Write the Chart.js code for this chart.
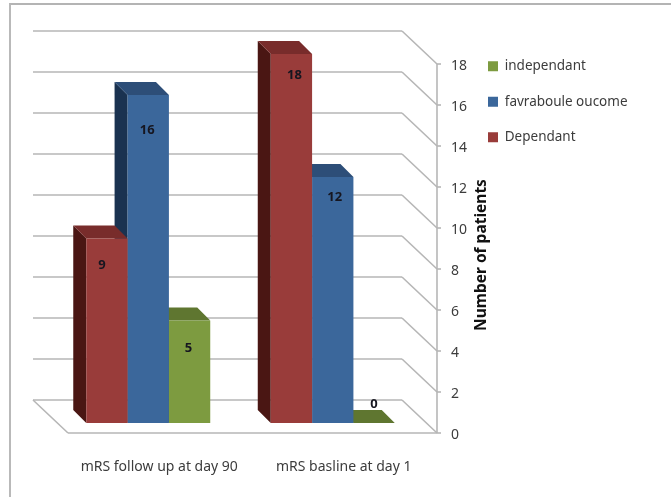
<!DOCTYPE html>
<html lang="en">
<head>
    <meta charset="UTF-8">
    <title>mRS outcome</title>
    <script src="https://cdn.jsdelivr.net/npm/chart.js"></script>
    <style>
        body { margin: 0; background: #fff; }
        #frame {
            position: absolute;
            left: 9px;
            top: 3px;
            width: 662px;
            height: 494px;
            border-top: 2px solid #b4b4b4;
            border-left: 2px solid #b9b9b9;
            box-sizing: border-box;
        }
        canvas { position: absolute; left: 0; top: 0; }
    </style>
</head>
<body>
    <div id="frame"></div>
    <canvas id="chart" width="671" height="497"></canvas>
    <script>
        const categories = ['mRS follow up at day 90', 'mRS basline at day 1'];
        const dependant = [9, 18];
        const favourable = [16, 12];
        const independant = [5, 0];
        const seriesNames = ['Dependant', 'favraboule oucome', 'independant'];
        const yTicks = [0, 2, 4, 6, 8, 10, 12, 14, 16, 18];
        const axisTitle = 'Number of patients';

        const FONT = '"Noto Sans", sans-serif';
        const TEXT = '#3c3c3c';
        const GRID = '#b6b6b6';
        // the floor sits behind the axis plane, this is the fake perspective
        const WALL_DX = 35, WALL_DY = 33;
        const BAR_DEPTH = 13;
        const BAR_LIFT = 0.488; // bars stand on the floor, 10px above the axis zero

        const colors = [
            { front: '#993c3a', top: '#782c2b', side: '#4a1613' },
            { front: '#3b679b', top: '#2d4e78', side: '#1a3250' },
            { front: '#7d9b40', top: '#5f7630', side: '#4a5c24' }
        ];
        // where Excel left the value labels, relative to each bar top
        const labelShift = [
            [[-5, 27], [3, 21]],
            [[-1, 35], [2, 20]],
            [[-1, 28], [0, -19]]
        ];

        function line(ctx, x1, y1, x2, y2) {
            ctx.beginPath();
            ctx.moveTo(x1, y1);
            ctx.lineTo(x2, y2);
            ctx.stroke();
        }

        function poly(ctx, pts, fill) {
            ctx.fillStyle = fill;
            ctx.beginPath();
            pts.forEach((p, i) => i ? ctx.lineTo(p[0], p[1]) : ctx.moveTo(p[0], p[1]));
            ctx.closePath();
            ctx.fill();
        }

        const threeD = {
            id: 'threeD',
            afterLayout(chart) {
                // legend goes beside the top of the axis, not in the middle of its own box
                chart.legend.left = 466;
                chart.legend.top = 37.5;
            },
            beforeDatasetsDraw(chart) {
                const ctx = chart.ctx;
                const y = chart.scales.y;
                const xAxis = y.left + 12;
                const xLeft = chart.chartArea.left + 12;

                ctx.save();
                ctx.strokeStyle = GRID;
                ctx.lineWidth = 1.6;
                yTicks.forEach(v => {
                    const py = y.getPixelForValue(v);
                    line(ctx, xLeft - WALL_DX, py - WALL_DY, xAxis - WALL_DX, py - WALL_DY);
                    line(ctx, xAxis - WALL_DX, py - WALL_DY, xAxis, py);
                    line(ctx, xAxis, py, xAxis + 4, py);
                });
                const py0 = y.getPixelForValue(0);
                line(ctx, xLeft - WALL_DX, py0 - WALL_DY, xLeft, py0);
                line(ctx, xLeft, py0, xAxis, py0);
                line(ctx, xAxis, y.getPixelForValue(18), xAxis, py0);

                // right to left so nearer bars cover the ones beside them
                for (let d = chart.data.datasets.length - 1; d >= 0; d--) {
                    chart.getDatasetMeta(d).data.forEach(bar => {
                        const l = bar.x - bar.width / 2, r = bar.x + bar.width / 2;
                        const t = bar.y, b = bar.base;
                        poly(ctx, [[l, t], [l - BAR_DEPTH, t - BAR_DEPTH], [l - BAR_DEPTH, b - BAR_DEPTH], [l, b]], colors[d].side);
                        poly(ctx, [[l, t], [l - BAR_DEPTH, t - BAR_DEPTH], [r - BAR_DEPTH, t - BAR_DEPTH], [r, t]], colors[d].top);
                    });
                }
                ctx.restore();
            },
            afterDatasetsDraw(chart) {
                const ctx = chart.ctx;
                ctx.save();
                ctx.textAlign = 'center';
                ctx.textBaseline = 'middle';
                ctx.font = 'bold 13px ' + FONT;
                ctx.fillStyle = '#161620';
                chart.data.datasets.forEach((ds, d) => {
                    chart.getDatasetMeta(d).data.forEach((bar, i) => {
                        ctx.fillText(ds.data[i], bar.x + labelShift[d][i][0], bar.y + labelShift[d][i][1]);
                    });
                });
                ctx.translate(482, 255);
                ctx.rotate(-Math.PI / 2);
                ctx.font = 'bold 15.5px ' + FONT;
                ctx.fillStyle = '#111';
                ctx.fillText(axisTitle, 0, 0);
                ctx.restore();
            }
        };

        const seriesValues = [dependant, favourable, independant];

        new Chart(document.getElementById('chart'), {
            type: 'bar',
            data: {
                labels: categories,
                datasets: seriesNames.map((name, i) => ({
                    label: name,
                    data: seriesValues[i],
                    backgroundColor: colors[i].front,
                    yAxisID: 'yBars',
                    clip: false
                }))
            },
            plugins: [threeD],
            options: {
                responsive: false,
                animation: false,
                barPercentage: 1,
                categoryPercentage: 0.672,
                layout: { padding: { left: 56, top: 64, right: 31, bottom: 0 } },
                plugins: {
                    tooltip: { enabled: false },
                    legend: {
                        position: 'right',
                        align: 'start',
                        reverse: true,
                        maxWidth: 150,
                        labels: {
                            boxWidth: 10,
                            boxHeight: 10,
                            padding: 22,
                            color: TEXT,
                            font: { family: FONT, size: 13.5 }
                        }
                    }
                },
                scales: {
                    x: {
                        grid: { display: false },
                        border: { display: false },
                        afterFit(scale) { scale.height = 64; },
                        ticks: {
                            padding: 18,
                            labelOffset: 11,
                            maxRotation: 0,
                            color: TEXT,
                            font: { family: FONT, size: 14 }
                        }
                    },
                    y: {
                        position: 'right',
                        min: 0,
                        max: 18,
                        grid: { display: false, drawTicks: false },
                        border: { display: false },
                        afterFit(scale) { scale.width = 65; },
                        ticks: {
                            stepSize: 2,
                            padding: 26,
                            labelOffset: 2,
                            color: TEXT,
                            font: { family: FONT, size: 14 }
                        }
                    },
                    yBars: {
                        display: false,
                        position: 'right',
                        min: -BAR_LIFT,
                        max: 18 - BAR_LIFT
                    }
                }
            }
        });
    </script>
</body>
</html>
